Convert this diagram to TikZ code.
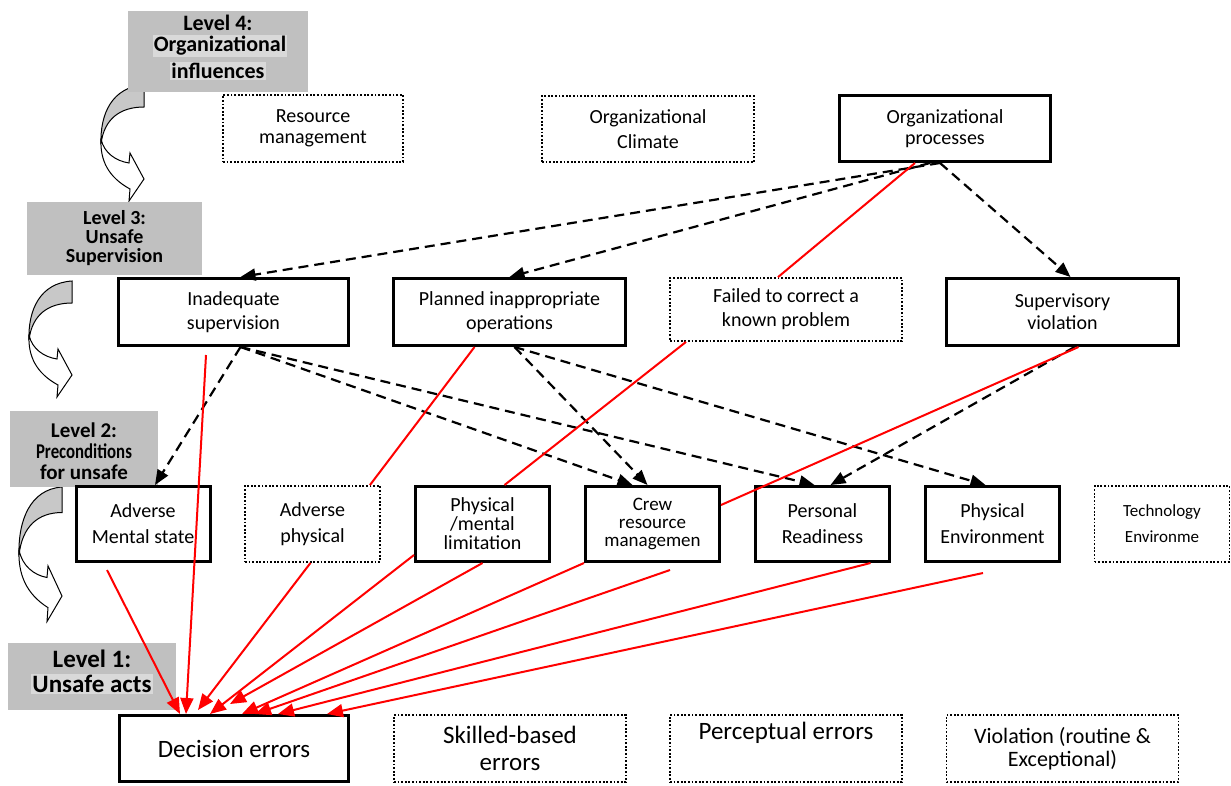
\documentclass[tikz,border=0pt]{standalone}
\usepackage{graphicx}
\usepackage{fontspec}
\setmainfont{Carlito}
\usetikzlibrary{arrows.meta}

\definecolor{lvlgray}{RGB}{192,192,192}
\definecolor{hilite}{RGB}{217,217,217}
\definecolor{arrowgray}{RGB}{200,200,200}

\tikzset{
    solidbox/.style={draw, line width=3pt, align=center, inner sep=0pt},
    dotbox/.style={draw, line width=1.8pt, dash pattern=on 1.8pt off 1.8pt, align=center, inner sep=0pt},
    levelbox/.style={fill=lvlgray, inner sep=0pt},
    leveltext/.style={font=\bfseries\fontsize{20}{19}\selectfont, align=center, inner sep=0pt},
    dasharrow/.style={line width=2.2pt, dash pattern=on 10pt off 6pt, -{Triangle[length=15pt,width=12pt]}},
    redline/.style={red, line width=2pt},
    redarrow/.style={red, line width=2pt, -{Triangle[length=16pt,width=13pt]}},
    bendarrow/.pic={
        \filldraw[fill=arrowgray, line width=1pt] (0,0) .. controls (-32,2) and (-44,29) .. (-43,59)
            .. controls (-40,34) and (-24,22) .. (0,22) -- cycle;
        \filldraw[fill=white, line width=1pt] (-43,54) .. controls (-40,68) and (-28,76) .. (-15,78)
            -- (-14,68) -- (0,94) -- (-15,116) -- (-14,104) .. controls (-36,92) and (-44,75) .. (-43,54);
    }
}

\begin{document}
\begin{tikzpicture}[x=1pt, y=-1pt]
            \useasboundingbox (0,0) rectangle (1231,785);

            % curved arrows between the levels
            \pic at (144,85) {bendarrow};
            \pic at (72,281) {bendarrow};
            \pic[yscale=1.16] at (62,487) {bendarrow};

            % level labels
            \node[levelbox, minimum width=180pt, minimum height=81pt] (lvl4) at (218,51.5) {};
            \node[leveltext, font=\bfseries\fontsize{22}{24}\selectfont] (lvl4a) at (218,23) {Level 4:};
            \node[leveltext, fill=hilite, inner sep=1pt, font=\bfseries\fontsize{22}{24}\selectfont] (lvl4b) at (220,46) {Organizational};
            \node[leveltext, fill=hilite, inner sep=1pt, font=\bfseries\fontsize{22}{24}\selectfont] (lvl4c) at (218,71) {influences};

            \node[levelbox, minimum width=175pt, minimum height=73pt] (lvl3) at (114.5,238.5) {};
            \node[leveltext] (lvl3t) at (114.5,238) {Level 3:\\Unsafe\\Supervision};

            \node[levelbox, minimum width=148pt, minimum height=76pt] (lvl2) at (84,449) {};
            \node[leveltext, font=\bfseries\fontsize{21}{21}\selectfont] (lvl2t) at (84,451) {Level 2:\\\scalebox{0.8}[1]{Preconditions}\\for unsafe};

            \node[levelbox, minimum width=168pt, minimum height=67pt] (lvl1) at (92,676.5) {};
            \node[leveltext, font=\bfseries\fontsize{25}{25}\selectfont] (lvl1a) at (92,659) {Level 1:};
            \node[leveltext, fill=hilite, inner sep=1pt, font=\bfseries\fontsize{25}{25}\selectfont] (lvl1b) at (92,684) {Unsafe acts};

            % level 4 boxes
            \node[dotbox, minimum width=180pt, minimum height=67pt, font=\fontsize{20}{21}\selectfont] (resmgmt) at (313,128.5) {Resource\\management};
            \node[dotbox, minimum width=212pt, minimum height=66pt, font=\fontsize{20}{25}\selectfont] (orgclim) at (648,129) {Organizational\\Climate};
            \node[solidbox, minimum width=211pt, minimum height=66pt, font=\fontsize{20}{21}\selectfont] (orgproc) at (945,128.5) {Organizational\\processes};

            % level 3 boxes
            \node[solidbox, minimum width=230pt, minimum height=67pt, font=\fontsize{20}{24}\selectfont] (inadsup) at (233.5,312) {Inadequate\\supervision};
            \node[solidbox, minimum width=232pt, minimum height=67pt, font=\fontsize{20}{24}\selectfont] (planops) at (509.5,312) {Planned inappropriate\\operations};
            \node[dotbox, minimum width=232pt, minimum height=63pt, font=\fontsize{20}{24}\selectfont] (failcorr) at (786,309.5) {Failed to correct a\\known problem};
            \node[solidbox, minimum width=232pt, minimum height=67pt, font=\fontsize{20}{22}\selectfont] (supviol) at (1062.5,312) {Supervisory\\violation};

            % level 2 boxes
            \node[solidbox, minimum width=134pt, minimum height=75pt, font=\fontsize{20}{26}\selectfont] (advment) at (143,524) {Adverse\\Mental state};
            \node[dotbox, minimum width=135pt, minimum height=76pt, font=\fontsize{20}{26}\selectfont] (advphys) at (312.5,524) {Adverse\\physical};
            \node[solidbox, minimum width=134pt, minimum height=75pt, font=\fontsize{20}{19}\selectfont] (physlim) at (482.5,524) {Physical\\/mental\\limitation};
            \node[solidbox, minimum width=134pt, minimum height=75pt, font=\fontsize{19}{18}\selectfont] (crewrm) at (652.5,524) {Crew\\resource\\managemen};
            \node[solidbox, minimum width=134pt, minimum height=75pt, font=\fontsize{20}{26}\selectfont] (persrd) at (822.5,524) {Personal\\Readiness};
            \node[solidbox, minimum width=134pt, minimum height=75pt, font=\fontsize{20}{26}\selectfont] (physenv) at (992.5,524) {Physical\\Environment};
            \node[dotbox, minimum width=135pt, minimum height=76pt, font=\fontsize{17}{26}\selectfont] (techenv) at (1162,524) {Technology\\Environme};

            % level 1 boxes
            \node[solidbox, minimum width=229pt, minimum height=66pt, font=\fontsize{25}{27}\selectfont] (decerr) at (234,748.5) {Decision errors};
            \node[dotbox, minimum width=232pt, minimum height=67pt, font=\fontsize{25}{27}\selectfont] (skillerr) at (510,748.5) {Skilled-based\\errors};
            \node[dotbox, minimum width=232pt, minimum height=67pt, font=\fontsize{25}{27}\selectfont] (percerr) at (786,748.5) {Perceptual errors\\\strut};
            \node[dotbox, minimum width=232pt, minimum height=67pt, font=\fontsize{22}{23}\selectfont] (violerr) at (1062.5,748.5) {Violation (routine \&\\Exceptional)};

            % dashed links
            \draw[dasharrow] ([xshift=-5pt]orgproc.south) -- ([xshift=7pt]inadsup.north);
            \draw[dasharrow] ([xshift=-15pt]orgproc.south) -- (planops.north);
            \draw[dasharrow] ([xshift=-5pt]orgproc.south) -- ([xshift=8pt]supviol.north);
            \draw[dasharrow] ([xshift=7pt]inadsup.south) -- ([xshift=12pt]advment.north);
            \draw[dasharrow] ([xshift=7pt]inadsup.south) -- ([xshift=-20pt]crewrm.north);
            \draw[dasharrow] ([xshift=7pt]inadsup.south) -- ([xshift=-8pt]persrd.north);
            \draw[dasharrow] ([xshift=5pt]planops.south) -- ([xshift=-5pt]crewrm.north);
            \draw[dasharrow] ([xshift=5pt]planops.south) -- ([xshift=-7pt]physenv.north);
            \draw[dasharrow] ([xshift=12pt]supviol.south) -- ([xshift=8pt]persrd.north);

            % red links
            \draw[redline] ([xshift=-35pt]planops.south) -- ([xshift=-11pt]advphys.north east);
            \draw[redline] ([xshift=-100pt]failcorr.south) -- ([xshift=22pt]physlim.north);
            \draw[redline] ([xshift=-8pt]failcorr.north) -- ([xshift=-30pt]orgproc.south);
            \draw[redline] ([xshift=16pt]supviol.south) -- ([yshift=19pt]crewrm.east);

            % red arrows into decision errors
            \coordinate (amfoot) at (107,570);
            \coordinate (isfoot) at (206,355);
            \coordinate (crfoot) at (670,570);
            \coordinate (pefoot) at (983,573);
            \draw[redarrow] (amfoot) -- ([xshift=62pt]decerr.north west);
            \draw[redarrow] (isfoot) -- ([xshift=68pt]decerr.north west);
            \draw[redarrow] ([xshift=-2pt]advphys.south) -- ([xshift=80pt,yshift=4pt]decerr.north west);
            \draw[redarrow] ([yshift=8pt]physlim.south west) -- ([xshift=92pt]decerr.north west);
            \draw[redarrow] (physlim.south) -- ([xshift=112pt,yshift=10pt]decerr.north west);
            \draw[redarrow] (crewrm.south west) -- ([xshift=124pt]decerr.north west);
            \draw[redarrow] (crfoot) -- ([xshift=137pt]decerr.north west);
            \draw[redarrow] ([xshift=48pt]persrd.south) -- ([xshift=160pt]decerr.north west);
            \draw[redarrow] (pefoot) -- ([xshift=209pt]decerr.north west);
\end{tikzpicture}
\end{document}
